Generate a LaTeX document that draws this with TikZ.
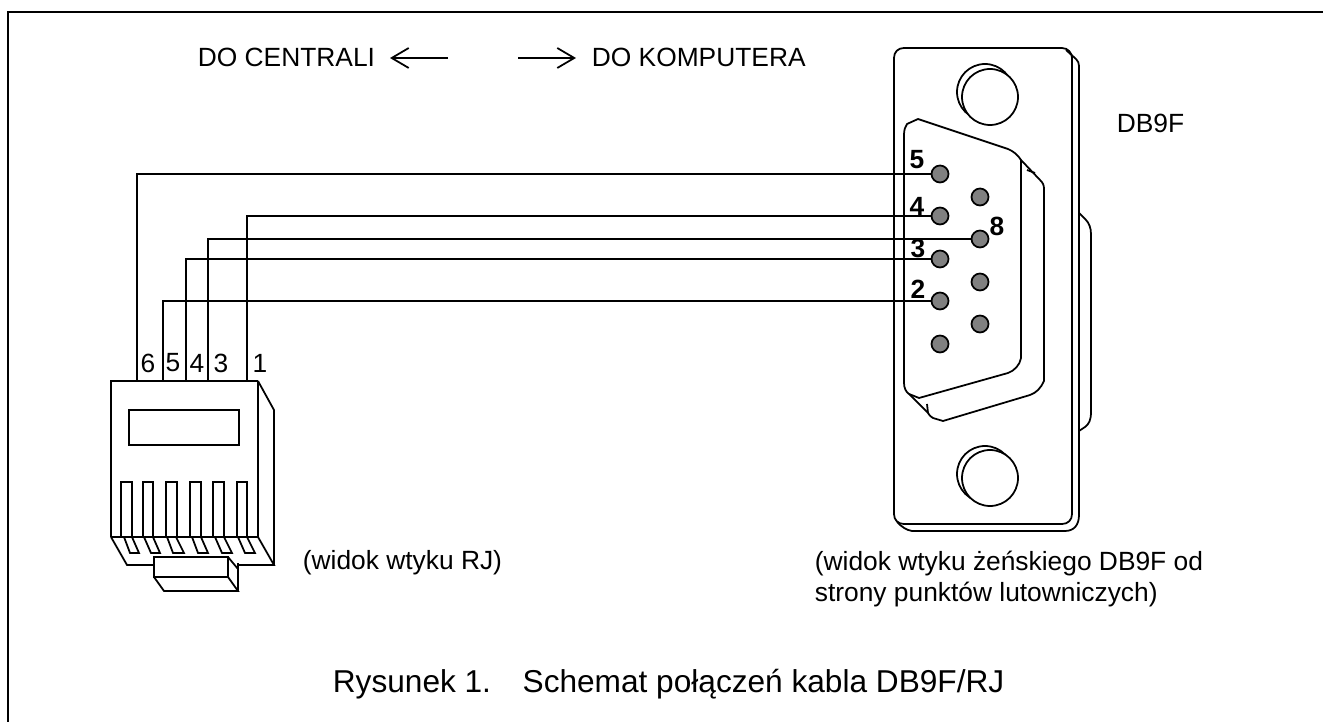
\documentclass[tikz,border=0pt]{standalone}
\usepackage{fontspec}
\setmainfont{Liberation Sans}
\usetikzlibrary{arrows.meta}

\begin{document}
\begin{tikzpicture}[x=0.02cm,y=-0.02cm,line width=1pt]
  \tikzstyle{LabelStyle}=[font=\fontsize{15}{18}\selectfont,inner sep=0pt,anchor=base west]
  \tikzstyle{NumStyle}=[font=\fontsize{15}{18}\selectfont\bfseries,inner sep=0pt]
  \tikzstyle{RjNumStyle}=[font=\fontsize{15}{18}\selectfont,inner sep=0pt]
  \tikzstyle{PinStyle}=[circle,draw,fill=black!50,inner sep=0pt,minimum size=0.34cm,line width=1pt]
  \tikzstyle{ArrowStyle}=[-{Straight Barb[length=0.34cm,width=0.4cm]}]
  \tikzstyle{WireStyle}=[line width=0.85pt]
  \useasboundingbox (0,0) rectangle (1323,722);
  \draw[line width=1.1pt] (8,722) -- (8,12) -- (1323,12);
  % kierunki
  \node[LabelStyle] (centrala) at (197,67) {DO CENTRALI};
  \node[LabelStyle] (komputer) at (591,67) {DO KOMPUTERA};
  \coordinate (lewo) at (448,58);
  \coordinate (prawo) at (518,58);
  \draw[ArrowStyle] (lewo) -- (390,58);
  \draw[ArrowStyle] (prawo) -- (576,58);
  % DB9F
  \draw (904,48) -- (1062,48) .. controls (1068,48) and (1072,53) .. (1072,58) -- (1072,514)
    .. controls (1072,520) and (1068,524) .. (1062,524) -- (904,524)
    .. controls (898,524) and (894,520) .. (894,514) -- (894,58)
    .. controls (894,52) and (898,48) .. (904,48) -- cycle;
  \draw (1066,50) -- (1076,59) .. controls (1078,61) and (1079,63) .. (1079,66) -- (1079,515)
    .. controls (1079,525) and (1074,531) .. (1065,531) -- (912,531)
    .. controls (906,530) and (902,527) .. (897,522);
  \draw (1079,213) -- (1086,220) .. controls (1089,223) and (1091,228) .. (1091,234) -- (1091,412)
    .. controls (1091,420) and (1089,424) .. (1085,427) -- (1079,431);
  \draw (985,92) circle (28);
  \draw[fill=white] (990,97) circle (28);
  \draw (985,474) circle (28);
  \draw[fill=white] (990,478) circle (28);
  \draw (904,135) .. controls (904,130) and (905,127) .. (907,124) -- (918,119) -- (1008,149)
    .. controls (1013,151) and (1018,155) .. (1021,160) -- (1021,358)
    .. controls (1020,365) and (1014,371) .. (1008,373) -- (919,398) -- (909,394)
    .. controls (906,392) and (904,388) .. (904,383) -- cycle;
  \draw (1021,160) -- (1040,180) .. controls (1043,183) and (1044,185) .. (1044,189) -- (1044,381)
    .. controls (1041,388) and (1036,393) .. (1030,395) -- (943,421) -- (933,418)
    .. controls (930,416) and (929,415) .. (928,413) -- (909,394);
  \draw (927,404) -- (928,413);
  \draw (1027,170) -- (1035,173);
  \node[PinStyle] (p5) at (940,174) {};
  \node[PinStyle] (p9) at (980,197) {};
  \node[PinStyle] (p4) at (940,216) {};
  \node[PinStyle] (p8) at (980,239) {};
  \node[PinStyle] (p3) at (940,259) {};
  \node[PinStyle] (p7) at (980,282) {};
  \node[PinStyle] (p2) at (940,301) {};
  \node[PinStyle] (p6) at (980,324) {};
  \node[PinStyle] (p1) at (940,344) {};
  \node[NumStyle] (n5) at (917,160) {5};
  \node[NumStyle] (n4) at (917,206) {4};
  \node[NumStyle] (n8) at (997,226) {8};
  \node[NumStyle] (n3) at (918,248) {3};
  \node[NumStyle] (n2) at (918,289) {2};
  \node[LabelStyle] (db) at (1116,133) {DB9F};
  \node[LabelStyle] (opis1) at (814,571) {(widok wtyku żeńskiego DB9F od};
  \node[LabelStyle] (opis2) at (814,602) {strony punktów lutowniczych)};
  % RJ
  \coordinate (r6) at (137,381);
  \coordinate (r5) at (163,381);
  \coordinate (r4) at (186,381);
  \coordinate (r3) at (208,381);
  \coordinate (r1) at (247,381);
  \draw[WireStyle] (p5.west) -| (r6);
  \draw[WireStyle] (p4.west) -| (r1);
  \draw[WireStyle] (p8.west) -| (r3);
  \draw[WireStyle] (p3.west) -| (r4);
  \draw[WireStyle] (p2.west) -| (r5);
  \draw (111,537) -- (111,381) -- (258,381);
  \draw[line width=1.6pt] (258,381) -- (258,537);
  \draw (258,381) -- (274,410) -- (274,565);
  \draw (129,410) rectangle (239,445);
  \draw (111,537) -- (258,537) -- (274,565) -- (238,565);
  \draw (111,537) -- (127,565) -- (154,565);
  \draw[line width=1.3pt] (121,537) -- (121,482) -- (132,482) -- (132,537);
  \draw[line width=1.3pt] (143,537) -- (143,482) -- (153,482) -- (153,537);
  \draw[line width=1.3pt] (166,537) -- (166,482) -- (177,482) -- (177,537);
  \draw[line width=1.3pt] (190,537) -- (190,482) -- (201,482) -- (201,537);
  \draw[line width=1.3pt] (213,537) -- (213,482) -- (224,482) -- (224,537);
  \draw[line width=1.3pt] (237,537) -- (237,482) -- (247,482) -- (247,537);
  \draw (124,537) -- (130,553) -- (139,553) -- (132,537);
  \draw (144,537) -- (151,553) -- (160,553) -- (153,537);
  \draw (167,537) -- (173,553) -- (184,553) -- (176,537);
  \draw (192,537) -- (198,553) -- (208,553) -- (201,537);
  \draw (215,537) -- (222,553) -- (232,553) -- (224,537);
  \draw (238,537) -- (245,553) -- (255,553) -- (247,537);
  \draw[fill=white] (154,557) rectangle (228,577);
  \draw (154,577) -- (164,591) -- (238,591) -- (228,577);
  \draw (238,591) -- (238,563);
  \draw (228,557) -- (238,569);
  \node[RjNumStyle] (l6) at (148,363) {6};
  \node[RjNumStyle] (l5) at (173,363) {5};
  \node[RjNumStyle] (l4) at (197,363) {4};
  \node[RjNumStyle] (l3) at (221,363) {3};
  \node[RjNumStyle] (l1) at (260,363) {1};
  \node[LabelStyle] (wtyk) at (302,570) {(widok wtyku RJ)};
  \node[LabelStyle,font=\fontsize{18}{22}\selectfont] (tytul) at (332,693) {Rysunek 1.\hspace{1em}Schemat połączeń kabla DB9F/RJ};
\end{tikzpicture}
\end{document}
